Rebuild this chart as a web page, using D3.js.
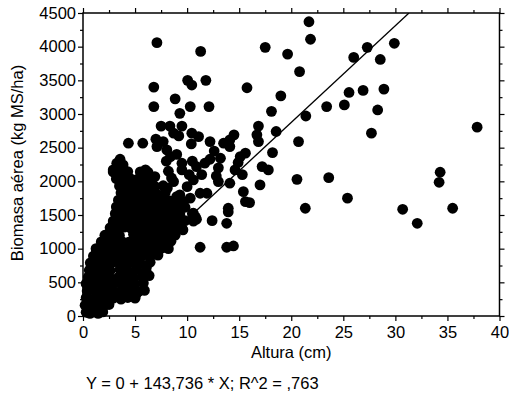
<!DOCTYPE html>
<html>
<head>
<meta charset="utf-8">
<script src="https://cdn.jsdelivr.net/npm/d3@7"></script>
<style>
  html, body { margin: 0; padding: 0; background: #fff; }
  svg { display: block; }
</style>
</head>
<body>
<svg id="chart" width="509" height="396"></svg>
<script>
// Altura (cm) vs biomasa aérea (kg MS/ha), one pair per sampled plot
const observaciones = [
  // low heights, dense cloud
  [0.3,55],[0.9,70],[1.45,40],[1.9,60],[0.67,40],[1.63,64],[0.36,138],
  [0.2,160],[0.8,150],[1.35,175],[2.0,150],[2.5,170],[1.95,163],
  [0.3,270],[1.0,255],[1.65,285],[2.3,260],[3.0,280],[3.65,250],[4.3,275],[5.0,265],[2.9,263],[3.56,337],
  [0.4,370],[1.1,385],[1.75,360],[2.4,380],[3.1,355],[3.75,375],[4.5,386],[5.3,360],[5.9,380],[5.16,337],
  [0.3,480],[1.0,470],[1.65,495],[2.3,470],[3.0,490],[3.65,475],[4.3,500],[5.0,470],[5.8,490],[0.51,486],
  [0.5,580],[1.2,590],[1.8,570],[2.5,585],[3.4,575],[4.15,590],[4.9,565],[5.7,585],[6.35,600],[5.8,584],
  [0.6,680],[1.25,670],[1.9,690],[2.6,675],[3.55,690],[4.3,670],[5.1,690],[6.05,680],[6.1,733],[0.84,758],
  [0.7,790],[1.35,780],[2.0,800],[2.7,785],[3.4,795],[4.05,780],[4.7,800],[5.5,785],[6.45,800],
  [1.0,890],[1.65,900],[2.3,880],[3.0,895],[3.65,885],[4.3,900],[5.0,880],[5.7,895],[6.45,890],[7.2,905],[1.3,955],
  [1.25,1000],[1.9,1010],[2.6,990],[3.3,1005],[3.95,995],[4.6,1010],[5.3,990],[6.05,1005],[6.8,995],[7.6,1010],[8.2,1000],
  [1.75,1100],[2.4,1110],[3.1,1090],[3.75,1105],[4.4,1095],[5.1,1095],[5.8,1110],[6.45,1090],[7.1,1105],[7.8,1095],[8.45,1110],[2.1,1129],
  [2.1,1200],[2.8,1210],[3.5,1195],[4.85,1215],[5.5,1205],[6.15,1190],[6.8,1210],[7.5,1195],[8.2,1205],[8.85,1200],[8.05,1178],
  [2.6,1310],[3.3,1300],[3.95,1320],[4.6,1305],[5.3,1315],[5.95,1300],[6.65,1310],[7.3,1320],[8.0,1300],[8.65,1310],[9.4,1305],[2.9,1377],
  [2.9,1410],[3.55,1420],[4.25,1400],[4.9,1415],[5.6,1405],[6.25,1420],[6.9,1400],[7.6,1410],[8.35,1420],[9.05,1400],[9.8,1415],[10.6,1410],
  [3.1,1520],[3.75,1510],[4.4,1525],[5.1,1515],[5.8,1520],[6.45,1505],[7.1,1525],[7.8,1510],[8.55,1520],[9.3,1515],[10.5,1520],
  [3.2,1620],[3.85,1610],[4.5,1625],[5.2,1615],[5.9,1620],[6.55,1605],[7.2,1625],[8.0,1610],[8.85,1620],[9.8,1615],[3.4,1624],
  [3.4,1720],[4.05,1715],[4.7,1725],[5.4,1710],[6.05,1720],[6.75,1715],[7.6,1725],[8.35,1710],[9.15,1720],
  [3.65,1830],[4.3,1820],[5.0,1835],[5.7,1825],[6.35,1830],[7.0,1820],[7.9,1835],[3.9,1823],
  [3.5,1930],[4.15,1925],[4.8,1935],[5.5,1920],[6.15,1930],[6.9,1925],[7.7,1935],
  [3.2,2040],[3.85,2035],[4.5,2045],[5.2,2030],[5.95,2040],[6.65,2035],
  [2.9,2140],[3.55,2135],[4.3,2145],[5.5,2140],[6.25,2135],
  [3.3,2240],[3.85,2245],
  // mid heights
  [7.1,4060],[11.3,3930],[6.8,3400],[10.05,3500],[10.45,3430],[11.8,3500],[6.8,3110],[8.85,3225],
  [10.3,3110],[12.1,3110],[9.3,3010],[15.75,3390],[7.5,2820],[8.35,2820],[9.5,2820],[8.7,2715],
  [9.2,2675],[10.45,2715],[11.1,2665],[12.2,2590],[10.4,2556],[7.0,2626],[7.7,2590],[7.1,2516],
  [4.36,2566],[5.74,2566],[8.05,2467],[8.4,2367],[3.56,2328],[3.24,2269],[2.9,2170],[3.7,2219],
  [4.0,2120],[6.0,2170],[6.9,2070],[9.5,2269],[9.5,2170],[10.9,2219],[11.7,2269],[12.2,2328],
  [13.2,2343],[14.1,2615],[14.5,2690],[14.1,2516],[13.5,2566],[15.1,2367],[15.6,2418],[14.6,2170],
  [14.1,1972],[13.0,1996],[4.7,2021],[5.2,1947],[4.0,1947],[4.36,1847],[3.7,1921],[7.7,1798],
  [8.7,1996],[9.3,1798],[10.0,1921],[11.25,1823],[11.9,1823],[10.6,2021],[15.4,1847],
  [8.0,2300],[8.2,2150],[8.5,2050],[9.0,2400],[8.1,1900],[10.2,2100],[10.5,2300],[11.4,2100],
  [10.3,1750],[12.6,2450],[13.0,2200],[12.8,2080],[14.9,2280],[15.3,2100],
  [11.25,1021],[13.8,1021],[14.45,1040],[12.4,1416],[13.8,1377],[13.95,1600],[15.6,1699],
  [10.6,1526],[10.9,1437],[9.5,1303],[9.3,1476],[8.4,1377],[7.7,1773],[9.0,1773],[9.65,1699],
  [9.15,1470],[10.8,1470],[13.95,1545],[9.6,1280],
  // tall swards
  [21.7,4370],[21.85,4110],[17.5,3990],[19.65,3890],[20.8,3630],[26.0,3840],[27.3,3990],[28.55,3810],
  [29.9,4050],[19.0,3270],[18.1,3040],[25.55,3320],[26.9,3350],[28.9,3370],[23.4,3110],[25.1,3135],
  [28.3,3060],[21.4,2970],[16.85,2820],[16.7,2690],[16.85,2590],[18.55,2740],[20.7,2590],[27.7,2715],
  [37.85,2805],[18.2,2427],[17.2,2219],[17.8,2170],[17.0,1947],[20.55,2030],[23.6,2055],[34.3,2135],
  [34.2,1986],[25.4,1750],[16.0,1684],[21.35,1600],[30.7,1585],[32.1,1377],[35.5,1600]
];

// Linear fit through the origin
const intercepto = 0;
const pendiente = 143.736;
const r2 = 0.763;

const xMajor = [0, 5, 10, 15, 20, 25, 30, 35, 40];
const xMinor = [2.5, 7.5, 12.5, 17.5, 22.5, 27.5, 32.5, 37.5];
const yMajor = [0, 500, 1000, 1500, 2000, 2500, 3000, 3500, 4000, 4500];
const yMinor = [250, 750, 1250, 1750, 2250, 2750, 3250, 3750, 4250];

const tituloX = "Altura (cm)";
const tituloY = "Biomasa aérea (kg MS/ha)";

const FONT = "'Liberation Sans', Arial, Helvetica, sans-serif";
const mLeft = 83, mRight = 499.5, mTop = 13, mBottom = 316;

const svg = d3.select("#chart");
const x = d3.scaleLinear().domain([0, 40]).range([mLeft, mRight]);
const y = d3.scaleLinear().domain([0, 4500]).range([mBottom, mTop]);

const fmt = v => d3.format("d")(v);

function styleAxis(g) {
  g.select(".domain").remove();
  g.selectAll("line").attr("stroke", "#000").attr("stroke-width", 1.2);
  g.attr("font-family", FONT).attr("font-size", 16.5);
  g.selectAll("text").attr("fill", "#000");
}

// bottom
svg.append("g").attr("transform", `translate(0,${mBottom})`)
  .call(d3.axisBottom(x).tickValues(xMajor).tickSize(5).tickFormat(fmt))
  .call(styleAxis)
  .call(g => g.selectAll("text").attr("y", 22).attr("dy", null));
svg.append("g").attr("transform", `translate(0,${mBottom})`)
  .call(d3.axisBottom(x).tickValues(xMinor).tickSize(3).tickFormat(""))
  .call(styleAxis);
// top
svg.append("g").attr("transform", `translate(0,${mTop})`)
  .call(d3.axisTop(x).tickValues(xMajor).tickSize(5).tickFormat(""))
  .call(styleAxis);
svg.append("g").attr("transform", `translate(0,${mTop})`)
  .call(d3.axisTop(x).tickValues(xMinor).tickSize(3).tickFormat(""))
  .call(styleAxis);
// left
svg.append("g").attr("transform", `translate(${mLeft},0)`)
  .call(d3.axisLeft(y).tickValues(yMajor).tickSize(5).tickPadding(2).tickFormat(fmt))
  .call(styleAxis);
svg.append("g").attr("transform", `translate(${mLeft},0)`)
  .call(d3.axisLeft(y).tickValues(yMinor).tickSize(3).tickFormat(""))
  .call(styleAxis);
// right
svg.append("g").attr("transform", `translate(${mRight},0)`)
  .call(d3.axisRight(y).tickValues(yMajor).tickSize(5).tickFormat(""))
  .call(styleAxis);
svg.append("g").attr("transform", `translate(${mRight},0)`)
  .call(d3.axisRight(y).tickValues(yMinor).tickSize(3).tickFormat(""))
  .call(styleAxis);

svg.append("defs").append("clipPath").attr("id", "plot-clip")
  .append("rect").attr("x", mLeft).attr("y", mTop)
  .attr("width", mRight - mLeft).attr("height", mBottom - mTop);

// points
svg.append("g").selectAll("circle")
  .data(observaciones)
  .join("circle")
  .attr("cx", d => x(d[0]))
  .attr("cy", d => y(d[1]))
  .attr("r", 5.4)
  .attr("fill", "#000");

// fitted line
const xFin = (y.domain()[1] - intercepto) / pendiente;
svg.append("path")
  .attr("clip-path", "url(#plot-clip)")
  .datum([0, xFin])
  .attr("fill", "none")
  .attr("stroke", "#000")
  .attr("stroke-width", 1.3)
  .attr("d", d3.line().x(d => x(d)).y(d => y(intercepto + pendiente * d)));

// frame
svg.append("rect")
  .attr("x", mLeft).attr("y", mTop)
  .attr("width", mRight - mLeft).attr("height", mBottom - mTop)
  .attr("fill", "none").attr("stroke", "#000").attr("stroke-width", 1.5);

// titles
svg.append("text")
  .attr("x", (mLeft + mRight) / 2).attr("y", 358)
  .attr("text-anchor", "middle")
  .attr("font-family", FONT).attr("font-size", 16.5)
  .text(tituloX);

svg.append("text")
  .attr("transform", `translate(23,${(62 + 264) / 2}) rotate(-90)`)
  .attr("text-anchor", "middle")
  .attr("font-family", FONT).attr("font-size", 16.5)
  .text(tituloY);

const num = v => d3.format(",.3f")(v).replace(/\./, "#").replace(/,/g, ".").replace("#", ",");
const r2txt = d3.format(".3f")(r2).replace(/^0\./, ",");
svg.append("text")
  .attr("x", 86).attr("y", 389)
  .attr("font-family", FONT).attr("font-size", 16.5)
  .text(`Y = ${intercepto} + ${num(pendiente)} * X; R^2 = ${r2txt}`);
</script>
</body>
</html>
